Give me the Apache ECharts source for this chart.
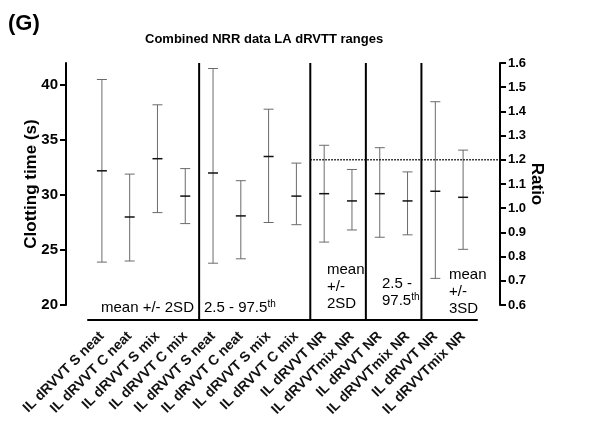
<!DOCTYPE html>
<html>
<head>
<meta charset="utf-8">
<script src="https://cdn.jsdelivr.net/npm/echarts@6/dist/echarts.min.js"></script>
<style>
html,body{margin:0;padding:0;background:#fff;}
#chart{width:590px;height:426px;}
</style>
</head>
<body>
<div id="chart"></div>
<script>
// ---- data ----
const categories = [
  'IL dRVVT S neat','IL dRVVT C neat','IL dRVVT S mix','IL dRVVT C mix',
  'IL dRVVT S neat','IL dRVVT C neat','IL dRVVT S mix','IL dRVVT C mix',
  'IL dRVVT NR','IL dRVVTmix NR','IL dRVVT NR','IL dRVVTmix NR','IL dRVVT NR','IL dRVVTmix NR'
];
// clotting time (s), categories 0-7 (left axis)
const timeIndex = [0,1,2,3,4,5,6,7];
const timeLow  = [23.9, 24.0, 28.4, 27.4, 23.8, 24.2, 27.5, 27.3];
const timeMean = [32.2, 28.0, 33.3, 29.9, 32.0, 28.1, 33.5, 29.9];
const timeHigh = [40.5, 31.9, 38.2, 32.4, 41.5, 31.3, 37.8, 32.9];
// ratio, categories 8-13 (right axis)
const ratioIndex = [8,9,10,11,12,13];
const ratioLow  = [0.86, 0.91, 0.88, 0.89, 0.71, 0.83];
const ratioMean = [1.06, 1.03, 1.06, 1.03, 1.07, 1.045];
const ratioHigh = [1.26, 1.16, 1.25, 1.15, 1.44, 1.24];
const cutoffRatio = 1.2;
const cutoffFrom = 7;          // dotted line starts after this category
const separatorsAfter = [3, 7, 9, 11];
const leftTicks = [20, 25, 30, 35, 40];
const rightTicks = [0.6,0.7,0.8,0.9,1.0,1.1,1.2,1.3,1.4,1.5,1.6];

// ---- styles ----
const FONT = 'Liberation Sans, Arial, sans-serif';
const X_OFFSET = 15, LEFT_OFFSET = 22, RIGHT_OFFSET = 23;

const timeData = timeIndex.map((c, i) => [c, timeLow[i], timeMean[i], timeHigh[i]]);
const ratioData = ratioIndex.map((c, i) => [c, ratioLow[i], ratioMean[i], ratioHigh[i]]);

function renderErr(params, api) {
  const c = api.value(0);
  const pL = api.coord([c, api.value(1)]);
  const pM = api.coord([c, api.value(2)]);
  const pH = api.coord([c, api.value(3)]);
  const x = pM[0], hw = 5;
  const ws = {stroke: '#6b6b6b', lineWidth: 1};
  return {type: 'group', children: [
    {type: 'line', shape: {x1: x, y1: pH[1], x2: x, y2: pL[1]}, style: ws},
    {type: 'line', shape: {x1: x - hw, y1: pH[1], x2: x + hw, y2: pH[1]}, style: ws},
    {type: 'line', shape: {x1: x - hw, y1: pL[1], x2: x + hw, y2: pL[1]}, style: ws},
    {type: 'line', shape: {x1: x - hw, y1: pM[1], x2: x + hw, y2: pM[1]}, style: {stroke: '#111', lineWidth: 1.5}}
  ]};
}

const chart = echarts.init(document.getElementById('chart'), null, {renderer: 'canvas'});
chart.setOption({
  animation: false,
  backgroundColor: '#fff',
  title: {
    text: 'Combined NRR data LA dRVTT ranges',
    left: 140, top: 28,
    textStyle: {fontFamily: FONT, fontSize: 13, fontWeight: 'bold', color: '#000'}
  },
  graphic: [
    {type: 'text', left: 8, top: 13, style: {text: '(G)', font: 'bold 22px ' + FONT, fill: '#000'}},
    {type: 'text', x: 101, y: 308, style: {text: 'mean +/- 2SD', font: '15px ' + FONT, fill: '#000', verticalAlign: 'middle'}},
    {type: 'text', x: 204, y: 308, style: {
      text: '{a|2.5 - 97.5}{s|th}', verticalAlign: 'middle',
      rich: {a: {fontFamily: FONT, fontSize: 15, color: '#000'}, s: {fontFamily: FONT, fontSize: 10, color: '#000', verticalAlign: 'top', padding: [0,0,8,0]}}
    }},
    {type: 'text', x: 327, y: 287, style: {text: 'mean\n+/-\n2SD', font: '15px ' + FONT, fill: '#000', verticalAlign: 'middle', lineHeight: 17}},
    {type: 'text', x: 382, y: 292, style: {
      text: '{a|2.5 -}\n{a|97.5}{s|th}', verticalAlign: 'middle',
      rich: {a: {fontFamily: FONT, fontSize: 15, color: '#000', lineHeight: 17}, s: {fontFamily: FONT, fontSize: 10, color: '#000', verticalAlign: 'top', lineHeight: 17, padding: [0,0,8,0]}}
    }},
    {type: 'text', x: 449, y: 291.5, style: {text: 'mean\n+/-\n3SD', font: '15px ' + FONT, fill: '#000', verticalAlign: 'middle', lineHeight: 17}}
  ],
  grid: {left: 88, right: 113, top: 63, bottom: 121},
  xAxis: {
    type: 'category', data: categories, offset: X_OFFSET,
    axisLine: {lineStyle: {color: '#000', width: 2}},
    axisTick: {alignWithLabel: true, length: 6, lineStyle: {color: '#000', width: 2}},
    axisLabel: {interval: 0, rotate: 45, margin: 14, fontFamily: FONT, fontSize: 14, fontWeight: 'bold', color: '#111'}
  },
  yAxis: [
    {
      type: 'value', min: 20, max: 42, offset: LEFT_OFFSET, position: 'left',
      name: 'Clotting time (s)', nameLocation: 'middle', nameGap: 26, nameRotate: 90, nameMoveOverlap: false,
      nameTextStyle: {fontFamily: FONT, fontSize: 17, fontWeight: 'bold', color: '#000'},
      splitLine: {show: false},
      axisLine: {show: true, lineStyle: {color: '#000', width: 2}},
      axisTick: {show: true, length: 6, customValues: leftTicks, lineStyle: {color: '#000', width: 2}},
      axisLabel: {customValues: leftTicks, margin: 8, fontFamily: FONT, fontSize: 15, fontWeight: 'bold', color: '#000'}
    },
    {
      type: 'value', min: 0.6, max: 1.6, offset: RIGHT_OFFSET, position: 'right',
      name: 'Ratio', nameLocation: 'middle', nameGap: 28, nameRotate: -90, nameMoveOverlap: false,
      nameTextStyle: {fontFamily: FONT, fontSize: 17, fontWeight: 'bold', color: '#000'},
      splitLine: {show: false},
      axisLine: {show: true, lineStyle: {color: '#000', width: 2}},
      axisTick: {show: true, length: 6, customValues: rightTicks, lineStyle: {color: '#000', width: 2}},
      axisLabel: {customValues: rightTicks, margin: 8, fontFamily: FONT, fontSize: 13, fontWeight: 'bold', color: '#000',
        formatter: v => v.toFixed(1)}
    }
  ],
  series: [
    {type: 'custom', name: 'time', xAxisIndex: 0, yAxisIndex: 0, data: timeData,
      encode: {x: 0, y: [1, 2, 3]}, renderItem: renderErr, clip: false, silent: true},
    {type: 'custom', name: 'ratio', xAxisIndex: 0, yAxisIndex: 1, data: ratioData,
      encode: {x: 0, y: [1, 2, 3]}, renderItem: renderErr, clip: false, silent: true},
    {type: 'custom', name: 'separators', xAxisIndex: 0, yAxisIndex: 0,
      data: separatorsAfter.map(c => [c]), encode: {x: 0}, clip: false, silent: true,
      renderItem: function (params, api) {
        const c = api.value(0);
        const x = (api.coord([c, 30])[0] + api.coord([c + 1, 30])[0]) / 2;
        const cs = params.coordSys;
        return {type: 'line', shape: {x1: x, y1: cs.y, x2: x, y2: cs.y + cs.height + X_OFFSET},
          style: {stroke: '#000', lineWidth: 2}};
      }},
    {type: 'custom', name: 'cutoff', xAxisIndex: 0, yAxisIndex: 1,
      data: [[cutoffFrom, cutoffRatio]], encode: {x: 0, y: 1}, clip: false, silent: true,
      renderItem: function (params, api) {
        const c = api.value(0);
        const p1 = api.coord([c, api.value(1)]);
        const p2 = api.coord([c + 1, api.value(1)]);
        const x1 = (p1[0] + p2[0]) / 2;
        const cs = params.coordSys;
        return {type: 'line', shape: {x1: x1, y1: p1[1], x2: cs.x + cs.width + RIGHT_OFFSET, y2: p1[1]},
          style: {stroke: '#000', lineWidth: 1.5, lineDash: [1.5, 1.5]}};
      }}
  ]
});
</script>
</body>
</html>
